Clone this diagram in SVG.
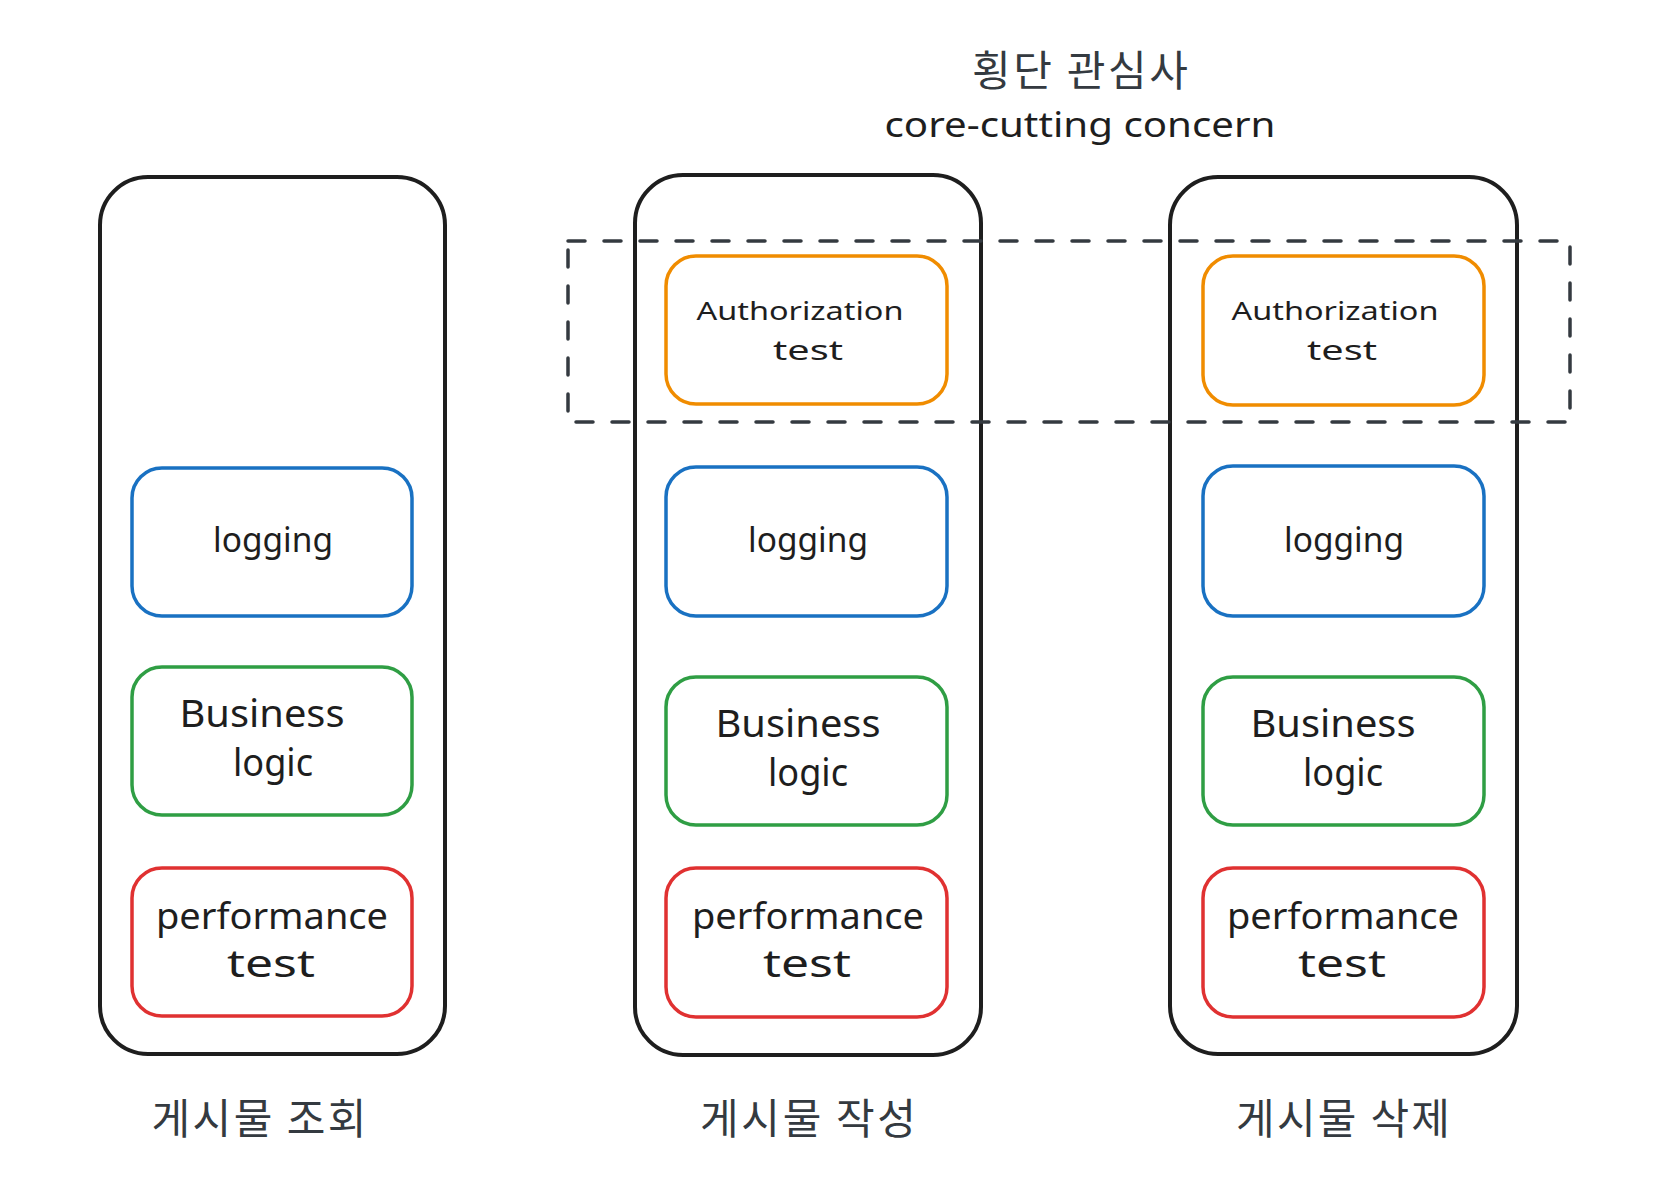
<svg xmlns="http://www.w3.org/2000/svg" width="1656" height="1182" viewBox="0 0 1656 1182">
<style>
.outer{fill:none;stroke:#1e1e1e;stroke-width:4}
.inner{fill:none;stroke-width:3.5}
.blue{stroke:#1971c2}.green{stroke:#2f9e44}.red{stroke:#e03131}.orange{stroke:#f08c00}
.hw{font-family:"Noto Sans","Liberation Sans",sans-serif;fill:#1e1e1e;text-anchor:middle}
.ko{font-family:"Noto Sans CJK KR","Noto Sans",sans-serif;fill:#343a40;font-size:42px;text-anchor:middle}
.dash{fill:none;stroke:#343a40;stroke-width:3.5;stroke-dasharray:17 19;stroke-linecap:round}
</style>
<rect width="1656" height="1182" fill="#ffffff"/>

<g id="title">
<text class="ko" x="1080" y="86" textLength="216" lengthAdjust="spacing">횡단 관심사</text>
<text class="hw" x="1080" y="137" font-size="34" textLength="391" lengthAdjust="spacingAndGlyphs">core-cutting concern</text>
</g>

<g id="col1">
<rect class="outer" x="100" y="177" width="345" height="877" rx="48"/>
<text class="ko" x="259" y="1134" textLength="215" lengthAdjust="spacing">게시물 조회</text>
</g>
<g id="col1-logging">
<rect class="inner blue" x="132" y="468" width="280" height="148" rx="30"/>
<text class="hw" x="273" y="552" font-size="34" textLength="120" lengthAdjust="spacingAndGlyphs">logging</text>
</g>
<g id="col1-business">
<rect class="inner green" x="132" y="667" width="280" height="148" rx="30"/>
<text class="hw" x="262" y="727" font-size="38" textLength="165" lengthAdjust="spacingAndGlyphs">Business</text>
<text class="hw" x="273" y="776" font-size="38" textLength="80" lengthAdjust="spacingAndGlyphs">logic</text>
</g>
<g id="col1-performance">
<rect class="inner red" x="132" y="868" width="280" height="148" rx="30"/>
<text class="hw" x="272" y="929" font-size="36" textLength="232" lengthAdjust="spacingAndGlyphs">performance</text>
<text class="hw" x="271" y="977" font-size="38" textLength="88" lengthAdjust="spacingAndGlyphs">test</text>
</g>

<g id="col2">
<rect class="outer" x="635" y="175" width="346" height="880" rx="48"/>
<text class="ko" x="808" y="1134" textLength="216" lengthAdjust="spacing">게시물 작성</text>
</g>
<g id="col2-auth">
<rect class="inner orange" x="666" y="256" width="281" height="148" rx="30"/>
<text class="hw" x="800" y="320" font-size="26" textLength="207" lengthAdjust="spacingAndGlyphs">Authorization</text>
<text class="hw" x="808" y="360" font-size="28" textLength="70" lengthAdjust="spacingAndGlyphs">test</text>
</g>
<g id="col2-logging">
<rect class="inner blue" x="666" y="467" width="281" height="149" rx="30"/>
<text class="hw" x="808" y="552" font-size="34" textLength="120" lengthAdjust="spacingAndGlyphs">logging</text>
</g>
<g id="col2-business">
<rect class="inner green" x="666" y="677" width="281" height="148" rx="30"/>
<text class="hw" x="798" y="737" font-size="38" textLength="165" lengthAdjust="spacingAndGlyphs">Business</text>
<text class="hw" x="808" y="786" font-size="38" textLength="80" lengthAdjust="spacingAndGlyphs">logic</text>
</g>
<g id="col2-performance">
<rect class="inner red" x="666" y="868" width="281" height="149" rx="30"/>
<text class="hw" x="808" y="929" font-size="36" textLength="232" lengthAdjust="spacingAndGlyphs">performance</text>
<text class="hw" x="807" y="977" font-size="38" textLength="88" lengthAdjust="spacingAndGlyphs">test</text>
</g>

<g id="col3">
<rect class="outer" x="1170" y="177" width="347" height="877" rx="48"/>
<text class="ko" x="1343" y="1134" textLength="214" lengthAdjust="spacing">게시물 삭제</text>
</g>
<g id="col3-auth">
<rect class="inner orange" x="1203" y="256" width="281" height="149" rx="30"/>
<text class="hw" x="1335" y="320" font-size="26" textLength="207" lengthAdjust="spacingAndGlyphs">Authorization</text>
<text class="hw" x="1342" y="360" font-size="28" textLength="70" lengthAdjust="spacingAndGlyphs">test</text>
</g>
<g id="col3-logging">
<rect class="inner blue" x="1203" y="466" width="281" height="150" rx="30"/>
<text class="hw" x="1344" y="552" font-size="34" textLength="120" lengthAdjust="spacingAndGlyphs">logging</text>
</g>
<g id="col3-business">
<rect class="inner green" x="1203" y="677" width="281" height="148" rx="30"/>
<text class="hw" x="1333" y="737" font-size="38" textLength="165" lengthAdjust="spacingAndGlyphs">Business</text>
<text class="hw" x="1343" y="786" font-size="38" textLength="80" lengthAdjust="spacingAndGlyphs">logic</text>
</g>
<g id="col3-performance">
<rect class="inner red" x="1203" y="868" width="281" height="149" rx="30"/>
<text class="hw" x="1343" y="929" font-size="36" textLength="232" lengthAdjust="spacingAndGlyphs">performance</text>
<text class="hw" x="1342" y="977" font-size="38" textLength="88" lengthAdjust="spacingAndGlyphs">test</text>
</g>

<g id="cross-cutting-frame">
<rect class="dash" x="568" y="241" width="1002" height="181"/>
</g>
<g id="connectors"/>
</svg>
